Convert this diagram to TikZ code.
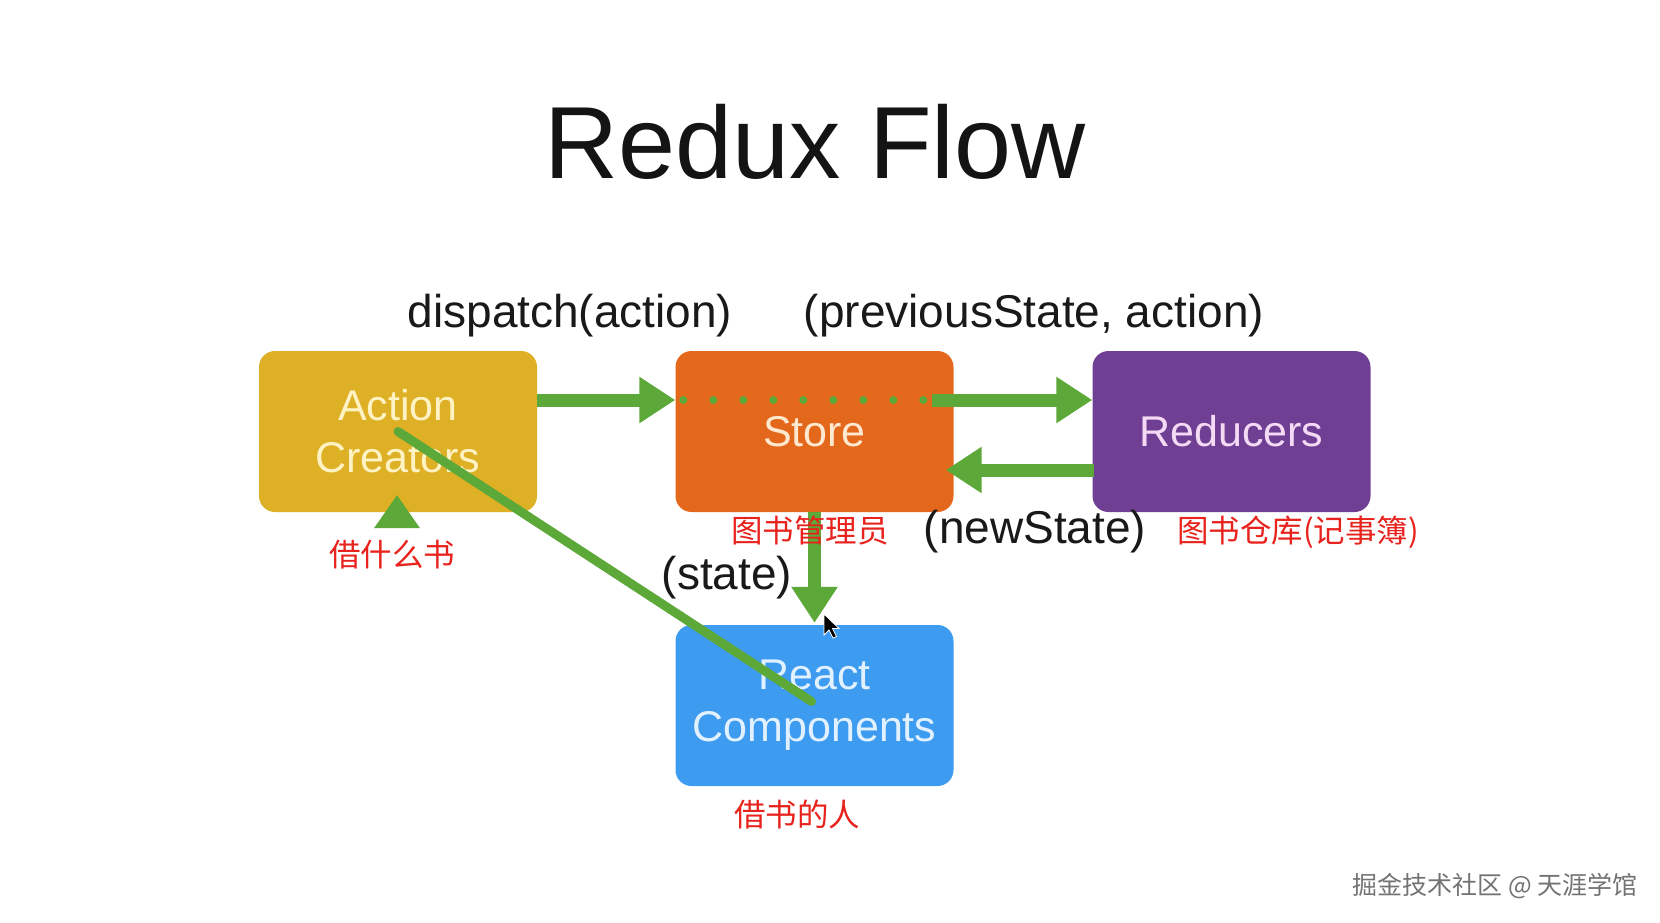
\documentclass[tikz,border=0pt]{standalone}
\usepackage{fontspec}
\setmainfont{Liberation Sans}
\newfontfamily\cjk{Noto Sans CJK SC}
\usetikzlibrary{arrows.meta,calc}
\definecolor{acC}{HTML}{DDB026}
\definecolor{stC}{HTML}{E4681B}
\definecolor{reC}{HTML}{6F3F94}
\definecolor{rcC}{HTML}{3D9BF0}
\definecolor{grC}{HTML}{5CA838}
\definecolor{redT}{HTML}{E8221C}
\definecolor{acT}{HTML}{FFF3C4}
\definecolor{stT}{HTML}{FFE8D0}
\definecolor{reT}{HTML}{F4DAF4}
\definecolor{rcT}{HTML}{E2F1FF}
\tikzset{
  box/.style={rounded corners=16pt, minimum width=278pt, minimum height=161pt, inner sep=0pt, align=center, font=\fontsize{43}{52}\selectfont},
  flow/.style={draw=grC, line width=13pt, -{Triangle[width=44pt,length=36pt]}},
  lbl/.style={text=black!90, font=\fontsize{46}{54}\selectfont, inner sep=0pt},
  note/.style={text=redT, font=\cjk\fontsize{31.5}{36}\selectfont, inner sep=0pt},
}
\begin{document}
\begin{tikzpicture}[x=1pt,y=-1pt]
\useasboundingbox (0,0) rectangle (1660,922);
\fill[white] (0,0) rectangle (1660,922);
\node[inner sep=0pt, font=\fontsize{102.5}{110}\selectfont, text=black!92] (title) at (815,142) {Redux Flow};
\node[box, fill=acC, text=acT] (ac) at (398,431.5) {Action\\Creators};
\node[box, fill=stC, text=stT] (st) at (814.5,431.5) {Store};
\node[box, fill=reC, text=reT] (re) at (1231.5,431.5) {Reducers};
\node[box, fill=rcC, text=rcT] (rc) at (814.5,705.5) {React\\Components};
% connectors
\draw[flow] ($(ac.east)+(0,-31.5)$) -- ($(st.west)+(0,-31.5)$);
\coordinate (dotend) at ($(st.east)+(-22,-31.5)$);
\draw[grC, line width=8pt, line cap=round, dash pattern=on 0pt off 30pt] ($(st.west)+(8,-31.5)$) -- (dotend);
\draw[flow] (dotend) -- ($(re.west)+(0,-31.5)$);
\draw[flow] ($(re.west)+(2,38.5)$) -- ($(st.east)+(-8,38.5)$);
\draw[flow] (st.south) -- ($(rc.north)+(0,-2)$);
% overlay strokes
\draw[grC, line width=9pt, line cap=round] (ac.center) -- ($(rc.center)+(-3,-4)$);
\fill[grC] ($(ac.south)+(-1,-17)$) -- ++(-23,33) -- ++(46,0) -- cycle;
% labels
\node[lbl] (l1) at (570,316) {dispatch(action)};
\node[lbl] (l2) at (1034,316) {(previousState, action)};
\node[lbl] (l3) at (1035,532) {(newState)};
\node[lbl] (l4) at (727,578) {(state)};
\node[note] (n1) at (392,555) {借什么书};
\node[note] (n2) at (810,531) {图书管理员};
\node[note] (n3) at (1298,532) {图书仓库(记事簿)};
\node[note] (n4) at (797,814) {借书的人};
\node[inner sep=0pt, text=black!55, font=\cjk\fontsize{25}{28}\selectfont] (wm) at (1495,886) {掘金技术社区 @ 天涯学馆};
% mouse cursor
\filldraw[fill=black, draw=white, line width=0.8pt] (824,614) -- (824,635) -- (829,630) -- (833,638) -- (836.5,636.5) -- (832.5,628.5) -- (839,628.5) -- cycle;
\end{tikzpicture}
\end{document}
